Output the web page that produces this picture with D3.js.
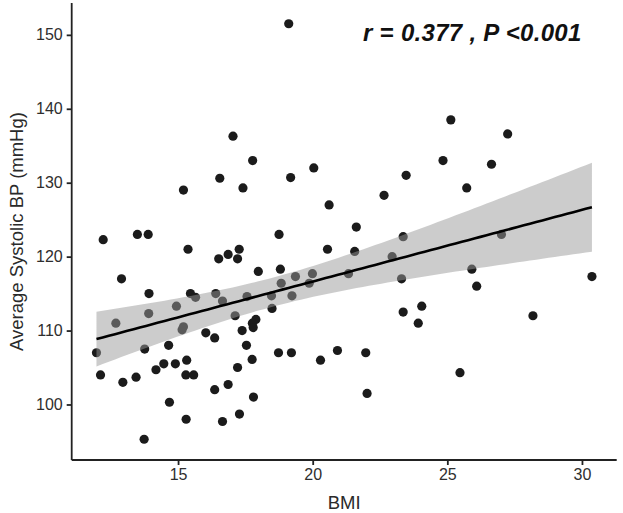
<!DOCTYPE html>
<html>
<head>
<meta charset="utf-8">
<script src="https://cdn.jsdelivr.net/npm/d3@7/dist/d3.min.js"></script>
<style>
  html, body { margin: 0; padding: 0; background: #ffffff; }
  svg { display: block; }
</style>
</head>
<body>
<svg id="chart" width="623" height="513"></svg>
<script>
// ---- Data ----
const bmi = [
  12.22, 13.49, 13.89, 15.37, 16.51, 16.86, 17.27, 17.21, 12.90, 13.92,
  15.46, 15.65, 16.40, 16.65, 17.56, 14.94, 13.91, 12.69, 15.20, 15.15,
  17.12, 16.03, 16.36, 17.38, 17.54, 11.97, 13.76, 14.65, 12.12, 12.95,
  13.44, 14.18, 14.47, 14.90, 15.32, 15.29, 15.58, 17.21, 16.36, 16.86,
  14.68, 15.30, 16.65, 17.28, 13.74,
  15.20, 16.55, 17.04, 17.41,
  19.11, 17.77, 19.18, 20.04, 20.61, 22.65, 23.47, 18.75, 21.62, 23.36,
  20.55, 21.56, 22.95, 17.98, 18.80, 19.36, 19.99, 18.83, 19.87, 21.33,
  23.30, 18.47, 19.23, 18.49, 23.36, 24.05, 23.92, 17.89, 17.76, 17.79,
  17.75, 18.73, 19.21, 20.29, 20.92, 21.97, 17.80, 22.02,
  25.13, 27.24, 24.84, 26.64, 25.72, 27.01,
  25.91, 26.09, 30.37, 28.18, 25.47
];
const systolic = [
  122.3, 123.0, 123.0, 121.0, 119.7, 120.3, 121.0, 119.7, 117.0, 115.0,
  115.0, 114.5, 115.0, 114.0, 114.6, 113.3, 112.3, 111.0, 110.5, 110.1,
  112.0, 109.7, 109.0, 110.0, 108.0, 107.0, 107.5, 108.0, 104.0, 103.0,
  103.7, 104.7, 105.5, 105.5, 106.0, 104.0, 104.0, 105.0, 102.0, 102.7,
  100.3, 98.0, 97.7, 98.7, 95.3,
  129.0, 130.6, 136.3, 129.3,
  151.5, 133.0, 130.7, 132.0, 127.0, 128.3, 131.0, 123.0, 124.0, 122.7,
  121.0, 120.7, 120.0, 118.0, 118.3, 117.3, 117.7, 116.4, 116.4, 117.7,
  117.0, 114.7, 114.7, 113.0, 112.5, 113.3, 111.0, 111.5, 111.0, 110.4,
  106.1, 107.0, 107.0, 106.0, 107.3, 107.0, 101.0, 101.5,
  138.5, 136.6, 133.0, 132.5, 129.3, 123.0,
  118.3, 116.0, 117.3, 112.0, 104.3
];
const xTicks = [15, 20, 25, 30];
const yTicks = [100, 110, 120, 130, 140, 150];
const xTitle = "BMI";
const yTitle = "Average Systolic BP (mmHg)";
const annotation = "r = 0.377 , P <0.001";

// ---- Layout ----
const svg = d3.select("#chart");
const panel = { left: 71.7, right: 616.7, top: 3, bottom: 460 };

function expanded(arr) {
  const [lo, hi] = d3.extent(arr);
  const pad = (hi - lo) * 0.05;
  return [lo - pad, hi + pad];
}

const x = d3.scaleLinear().domain(expanded(bmi)).range([panel.left, panel.right]);
const y = d3.scaleLinear().domain(expanded(systolic)).range([panel.bottom, panel.top]);

const points = bmi.map((b, i) => ({ x: b, y: systolic[i] }));

// ---- Points ----
svg.append("g")
  .selectAll("circle")
  .data(points)
  .join("circle")
  .attr("cx", d => x(d.x))
  .attr("cy", d => y(d.y))
  .attr("r", 4.6)
  .attr("fill", "#1b1b1b");

// ---- Linear fit with 95% CI (as geom_smooth(method = "lm")) ----
const n = points.length;
const mx = d3.mean(bmi), my = d3.mean(systolic);
let sxx = 0, sxy = 0;
points.forEach(p => { sxx += (p.x - mx) ** 2; sxy += (p.x - mx) * (p.y - my); });
const slope = sxy / sxx;
const intercept = my - slope * mx;
let sse = 0;
points.forEach(p => { sse += (p.y - (intercept + slope * p.x)) ** 2; });
const s = Math.sqrt(sse / (n - 2));
const tq = 1.985;
const [xmin, xmax] = d3.extent(bmi);
const grid = d3.range(0, 81).map(i => xmin + (xmax - xmin) * i / 80);
const band = grid.map(g => {
  const fit = intercept + slope * g;
  const se = s * Math.sqrt(1 / n + (g - mx) ** 2 / sxx);
  return { x: g, fit, lo: fit - tq * se, hi: fit + tq * se };
});

svg.append("path")
  .datum(band)
  .attr("d", d3.area().x(d => x(d.x)).y0(d => y(d.lo)).y1(d => y(d.hi)))
  .attr("fill", "#999999")
  .attr("fill-opacity", 0.5);

svg.append("path")
  .datum(band)
  .attr("d", d3.line().x(d => x(d.x)).y(d => y(d.fit)))
  .attr("fill", "none")
  .attr("stroke", "#000000")
  .attr("stroke-width", 2.6);

// ---- Axes ----
const xAxis = svg.append("g")
  .attr("transform", `translate(0,${panel.bottom})`)
  .call(d3.axisBottom(x).tickValues(xTicks).tickSize(5).tickPadding(4).tickSizeOuter(0));
const yAxis = svg.append("g")
  .attr("transform", `translate(${panel.left},0)`)
  .call(d3.axisLeft(y).tickValues(yTicks).tickSize(5).tickPadding(4).tickSizeOuter(0));

[xAxis, yAxis].forEach(ax => {
  ax.select(".domain").attr("stroke", "#222").attr("stroke-width", 1.8);
  ax.selectAll(".tick line").attr("stroke", "#222").attr("stroke-width", 1.8);
  ax.selectAll(".tick text")
    .attr("fill", "#2e2e2e")
    .style("font-family", "'Liberation Sans', Arial, sans-serif")
    .style("font-size", "16px");
});
// extend axis lines across the full panel
xAxis.select(".domain").attr("d", `M${panel.left},0H${panel.right}`);
yAxis.select(".domain").attr("d", `M0,${panel.top}V${panel.bottom}`);

// ---- Titles ----
svg.append("text")
  .attr("x", (panel.left + panel.right) / 2)
  .attr("y", 508.5)
  .attr("text-anchor", "middle")
  .attr("fill", "#2a2a2a")
  .style("font-family", "'Liberation Sans', Arial, sans-serif")
  .style("font-size", "18.5px")
  .text(xTitle);

svg.append("text")
  .attr("transform", `translate(23,${(panel.top + panel.bottom) / 2}) rotate(-90)`)
  .attr("text-anchor", "middle")
  .attr("fill", "#2a2a2a")
  .style("font-family", "'Liberation Sans', Arial, sans-serif")
  .style("font-size", "18.5px")
  .text(yTitle);

// ---- Annotation ----
svg.append("text")
  .attr("x", 363)
  .attr("y", 40.5)
  .attr("fill", "#111")
  .style("font-family", "'Liberation Sans', Arial, sans-serif")
  .style("font-size", "24px")
  .style("letter-spacing", "0.3px")
  .style("font-weight", "bold")
  .style("font-style", "italic")
  .text(annotation);
</script>
</body>
</html>
